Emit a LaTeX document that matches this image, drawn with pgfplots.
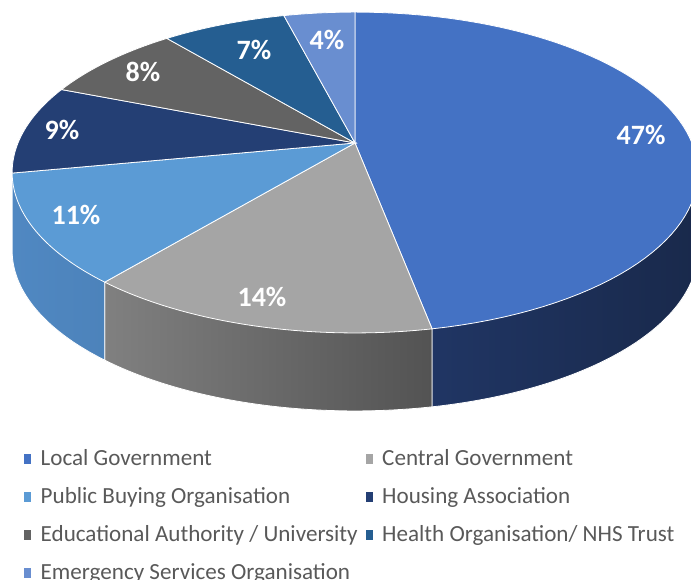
\documentclass[border=0pt]{standalone}
\usepackage{fontspec}
\setmainfont{Carlito}
\usepackage{pgfplots}
\usepackage{pgfplotstable}
\pgfplotsset{compat=1.18}

\definecolor{cLocal}{HTML}{4472C4}
\definecolor{cCentral}{HTML}{A5A5A5}
\definecolor{cPublic}{HTML}{5B9BD5}
\definecolor{cHousing}{HTML}{243F74}
\definecolor{cEdu}{HTML}{636363}
\definecolor{cHealth}{HTML}{255E91}
\definecolor{cEmerg}{HTML}{698ED0}
% side (rim) shading, left and right ends
\definecolor{sLocalL}{HTML}{22396B}
\definecolor{sLocalR}{HTML}{19294B}
\definecolor{sCentralL}{HTML}{808080}
\definecolor{sCentralR}{HTML}{535353}
\definecolor{sPublicL}{HTML}{5088C2}
\definecolor{sPublicR}{HTML}{4274A7}
\definecolor{legtext}{HTML}{595959}

\newcommand\labfont{\fontsize{28bp}{32bp}\selectfont\bfseries}
\newcommand\legfont{\fontsize{23.1bp}{27bp}\selectfont}

% share (%), top colour, rim colours, label position (px)
\pgfplotstableread{
value col sidel sider lx ly
47 cLocal sLocalL sLocalR 641 135
14 cCentral sCentralL sCentralR 262 297
11 cPublic sPublicL sPublicR 76 215
9 cHousing cHousing cHousing 62 130
8 cEdu cEdu cEdu 143 72
7 cHealth cHealth cHealth 254 50
4 cEmerg cEmerg cEmerg 327 40
}\piedata

\begin{document}
\begin{tikzpicture}[
  declare function={
    pieX(\a)=355+337*sin(\a)/(1+0.184*cos(\a));
    pieY(\a)=143-155*cos(\a)/(1+0.184*cos(\a));
  }]
\begin{axis}[
  name=ax,
  width=691bp, height=580bp, scale only axis,
  xmin=0, xmax=691, ymin=0, ymax=580, y dir=reverse,
  hide axis,
  legend columns=2,
  legend entries={Local Government, Central Government,
    Public Buying Organisation, Housing Association,
    Educational Authority / University, Health Organisation/ NHS Trust,
    Emergency Services Organisation},
  legend image code/.code={\fill[#1, draw=none] (0bp,-4.5bp) rectangle (7bp,5.5bp);},
  legend cell align=left,
  legend style={at={(axis cs:24,449)}, anchor=north west, draw=none, fill=none,
    inner sep=0pt, font=\legfont, text=legtext, row sep=17bp,
    nodes={inner sep=0pt, text height=16bp, text depth=5bp},
    /tikz/column 1/.style={column sep=9.5bp},
    /tikz/column 2/.style={column sep=8.5bp},
    /tikz/column 3/.style={column sep=9bp}},
]
% rims
\def\acc{0}
\pgfplotsforeachungrouped \row in {0,...,6}{%
  \pgfplotstablegetelem{\row}{value}\of\piedata \let\val\pgfplotsretval
  \pgfplotstablegetelem{\row}{sidel}\of\piedata \let\colL\pgfplotsretval
  \pgfplotstablegetelem{\row}{sider}\of\piedata \let\colR\pgfplotsretval
  \pgfmathsetmacro\sa{max(\acc*3.6,100.6)}
  \pgfmathsetmacro\sb{min((\acc+\val)*3.6,259.4)}
  \pgfmathsetmacro\acc{\acc+\val}
  \ifdim\sb pt>\dimexpr\sa pt+1pt\relax
    \pgfmathsetmacro\xa{pieX(\sa)}\pgfmathsetmacro\ya{pieY(\sa)}
    \pgfmathsetmacro\xb{pieX(\sb)}\pgfmathsetmacro\yb{pieY(\sb)}
    \edef\cmd{\noexpand\addplot[forget plot, left color=\colL, right color=\colR,
      draw=white, line width=0.8pt, domain=\sa:\sb, samples=60, variable=\noexpand\t]
      ({pieX(\noexpand\t)},{pieY(\noexpand\t)+78}) -- (\xb,\yb) -- (355,143) -- (\xa,\ya) -- cycle;}
    \cmd
  \fi
}
% top faces
\def\acc{0}
\pgfplotsforeachungrouped \row in {0,...,6}{%
  \pgfplotstablegetelem{\row}{value}\of\piedata \let\val\pgfplotsretval
  \pgfplotstablegetelem{\row}{col}\of\piedata \let\col\pgfplotsretval
  \pgfmathsetmacro\aone{\acc*3.6}
  \pgfmathsetmacro\atwo{(\acc+\val)*3.6}
  \pgfmathsetmacro\acc{\acc+\val}
  \edef\cmd{\noexpand\addplot[fill=\col, draw=white, line width=0.8pt,
    domain=\aone:\atwo, samples=80, variable=\noexpand\t]
    ({pieX(\noexpand\t)},{pieY(\noexpand\t)}) -- (355,143) -- cycle;}
  \cmd
}
% data labels
\pgfplotsforeachungrouped \row in {0,...,6}{%
  \pgfplotstablegetelem{\row}{value}\of\piedata \let\val\pgfplotsretval
  \pgfplotstablegetelem{\row}{lx}\of\piedata \let\lx\pgfplotsretval
  \pgfplotstablegetelem{\row}{ly}\of\piedata \let\ly\pgfplotsretval
  \edef\cmd{\noexpand\node[font=\noexpand\labfont, text=white] at (axis cs:\lx,\ly) {\val\noexpand\%};}
  \cmd
}
\end{axis}
\pgfresetboundingbox
\path[use as bounding box] (ax.south west) rectangle (ax.north east);
\end{tikzpicture}
\end{document}
